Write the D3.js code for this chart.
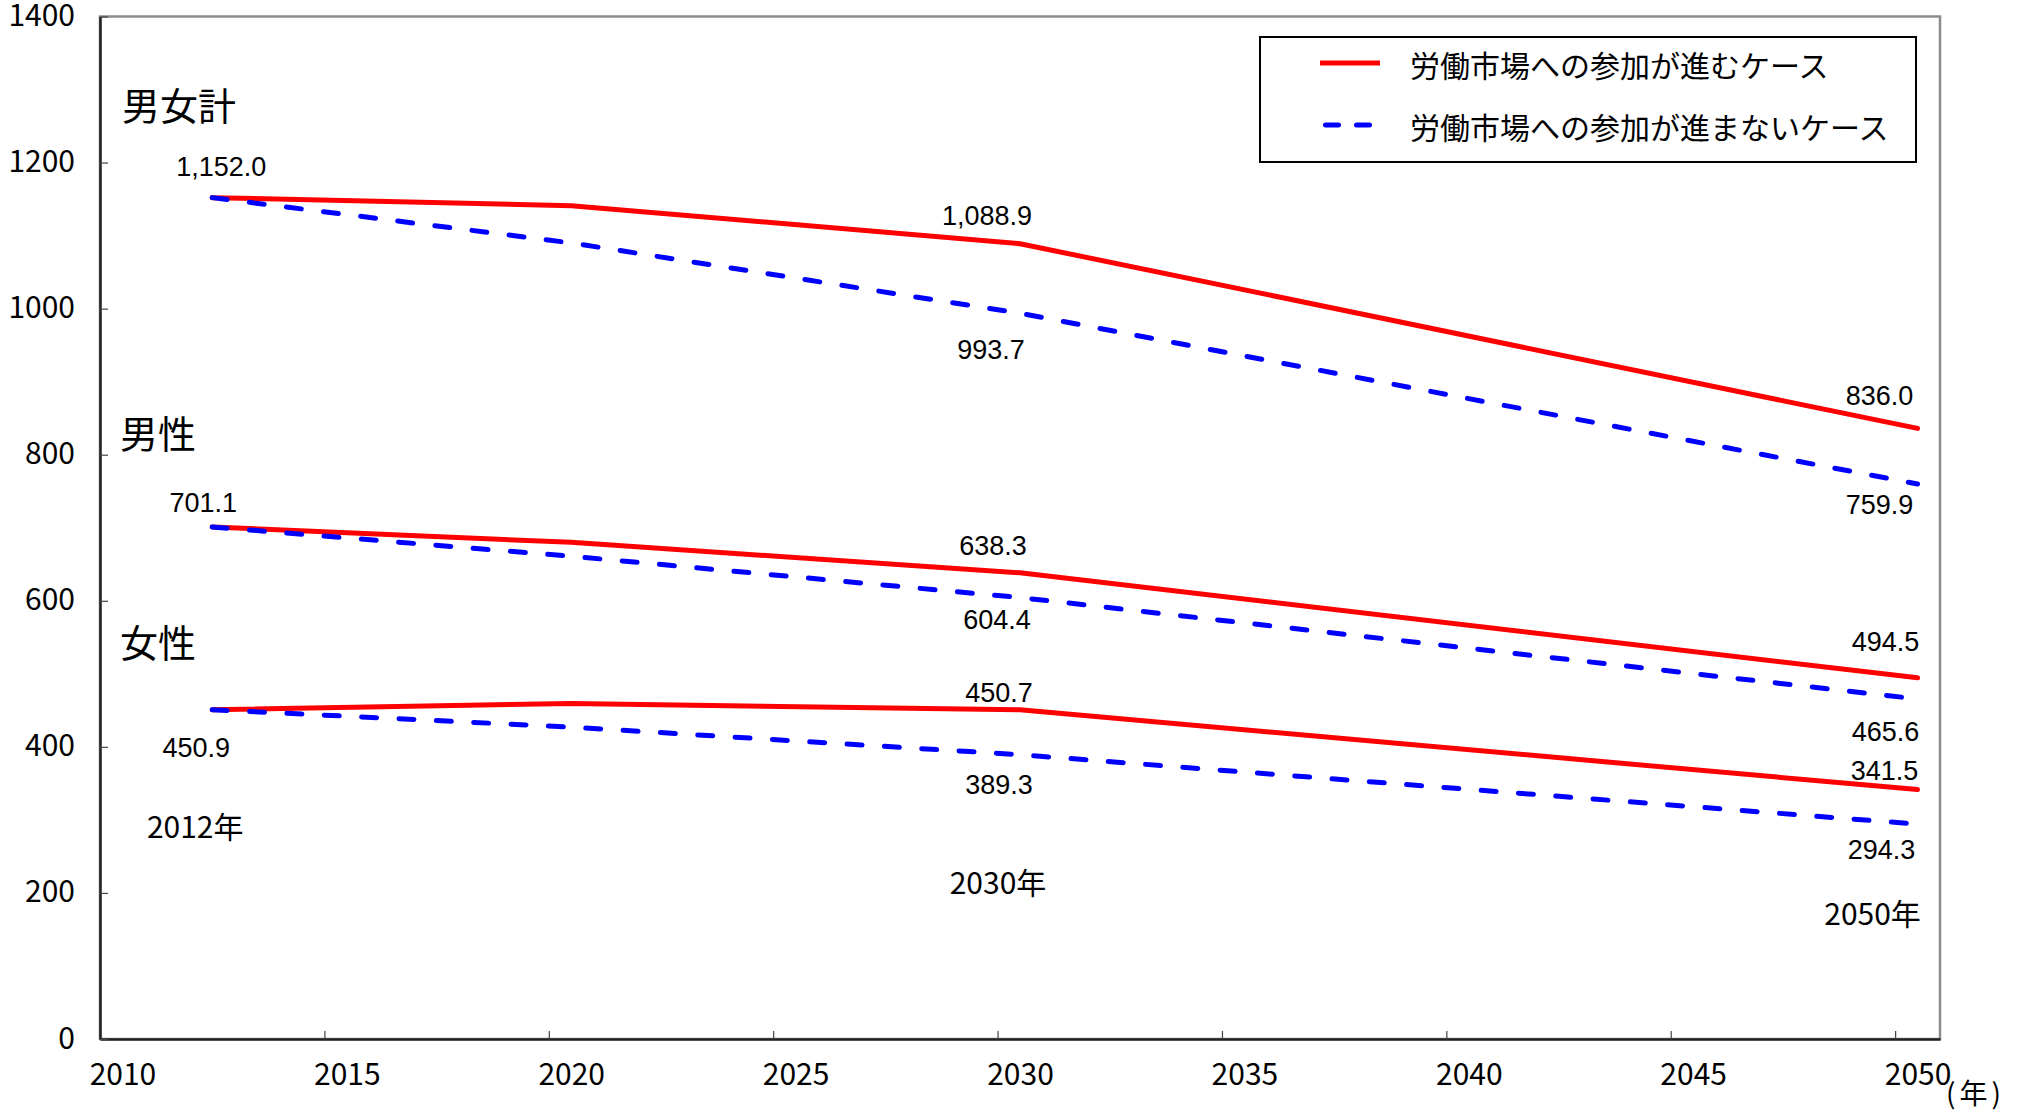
<!DOCTYPE html>
<html>
<head>
<meta charset="utf-8">
<script src="https://cdn.jsdelivr.net/npm/d3@7"></script>
<style>
  body { margin: 0; background: #fff; }
  svg { display: block; }
  .tick text { font-family: "Noto Sans CJK JP", sans-serif; font-size: 30px; fill: #000; }
  .val { font-family: "Liberation Sans", Arial, sans-serif; font-size: 27px; fill: #000; }
  .jp { font-family: "Noto Sans CJK JP", sans-serif; fill: #000; }
</style>
</head>
<body>
<div id="chart"></div>
<script>
// data (thousand persons), points plotted mid-year
var years = [2012, 2020, 2030, 2050];
var totalUp   = [1152.0, 1141, 1088.9, 836.0];
var totalDown = [1152.0, 1090,  993.7, 759.9];
var maleUp    = [701.1, 680, 638.3, 494.5];
var maleDown  = [701.1, 661, 604.4, 465.6];
var femaleUp  = [450.9, 459.5, 450.7, 341.5];
var femaleDown= [450.9, 427, 389.3, 294.3];

var xTicks = [2010, 2015, 2020, 2025, 2030, 2035, 2040, 2045, 2050];
var yTicks = [0, 200, 400, 600, 800, 1000, 1200, 1400];
var legendNames = ["労働市場への参加が進むケース", "労働市場への参加が進まないケース"];
var groupNames = ["男女計", "男性", "女性"];
var yearNames = ["2012年", "2030年", "2050年"];

var series = [
  {key: "totalUp", vals: totalUp, up: true},
  {key: "totalDown", vals: totalDown, up: false},
  {key: "maleUp", vals: maleUp, up: true},
  {key: "maleDown", vals: maleDown, up: false},
  {key: "femaleUp", vals: femaleUp, up: true},
  {key: "femaleDown", vals: femaleDown, up: false}
];

// where each value label sits, offset from its point
var labelPlace = [
  {key: "totalUp", i: 0, dx: 9, dy: -22},
  {key: "totalUp", i: 2, dx: -33, dy: -19},
  {key: "totalUp", i: 3, dx: -38, dy: -23},
  {key: "totalDown", i: 2, dx: -29, dy: 46},
  {key: "totalDown", i: 3, dx: -38, dy: 30},
  {key: "maleUp", i: 0, dx: -9, dy: -15},
  {key: "maleUp", i: 2, dx: -27, dy: -18},
  {key: "maleUp", i: 3, dx: -32, dy: -27},
  {key: "maleDown", i: 2, dx: -23, dy: 31},
  {key: "maleDown", i: 3, dx: -32, dy: 42},
  {key: "femaleUp", i: 0, dx: -16, dy: 47},
  {key: "femaleUp", i: 2, dx: -21, dy: -8},
  {key: "femaleUp", i: 3, dx: -33, dy: -10},
  {key: "femaleDown", i: 2, dx: -21, dy: 39},
  {key: "femaleDown", i: 3, dx: -36, dy: 35}
];

var W = 2022, H = 1115;
var pLeft = 100, pRight = 1940, pTop = 16.5, pBottom = 1039;

var svg = d3.select("#chart").append("svg")
  .attr("width", W).attr("height", H);

var x = d3.scaleLinear().domain([2010, 2051]).range([pLeft, pRight]);
var y = d3.scaleLinear().domain([0, 1400]).range([pBottom, pTop]);
var half = x(2010.5) - x(2010);

// frame
svg.append("rect")
  .attr("x", pLeft).attr("y", pTop)
  .attr("width", pRight - pLeft).attr("height", pBottom - pTop)
  .attr("fill", "none").attr("stroke", "#8c8c8c").attr("stroke-width", 2.5);

var xAxis = svg.append("g")
  .attr("transform", "translate(0," + pBottom + ")")
  .call(d3.axisBottom(x).tickValues(xTicks).tickFormat(d3.format("d"))
    .tickSizeInner(-8).tickSizeOuter(0).tickPadding(25));
xAxis.selectAll("text").attr("dx", half);

var yAxis = svg.append("g")
  .attr("transform", "translate(" + pLeft + ",0)")
  .call(d3.axisLeft(y).tickValues(yTicks).tickFormat(d3.format("d"))
    .tickSizeInner(-8).tickSizeOuter(0).tickPadding(25));
yAxis.selectAll("text").attr("dy", "0.3em");

svg.selectAll(".domain").attr("stroke", "#222").attr("stroke-width", 2.5);
svg.selectAll(".tick line").attr("stroke", "#444").attr("stroke-width", 1.2);

var line = d3.line()
  .x(function(d, i) { return x(years[i] + 0.5); })
  .y(function(d) { return y(d); });

svg.append("g").selectAll("path")
  .data(series)
  .enter()
  .append("path")
  .attr("d", function(s) { return line(s.vals); })
  .attr("fill", "none")
  .attr("stroke", function(s) { return s.up ? "#ff0000" : "#0000ff"; })
  .attr("stroke-width", 5)
  .attr("stroke-linecap", "round")
  .attr("stroke-linejoin", "round")
  .attr("stroke-dasharray", function(s) { return s.up ? null : "15,22.4"; });

var fmt = d3.format(",.1f");
var byKey = {};
series.forEach(function(s) { byKey[s.key] = s; });

svg.append("g").selectAll("text")
  .data(labelPlace)
  .enter()
  .append("text")
  .attr("class", "val")
  .attr("text-anchor", "middle")
  .attr("x", function(d) { return x(years[d.i] + 0.5) + d.dx; })
  .attr("y", function(d) { return y(byKey[d.key].vals[d.i]) + d.dy; })
  .text(function(d) { return fmt(byKey[d.key].vals[d.i]); });

// year captions
var yearPlace = [
  {i: 0, dx: -17, py: 838},
  {i: 2, dx: -22, py: 894},
  {i: 3, dx: -45, py: 925}
];
svg.append("g").selectAll("text")
  .data(yearPlace)
  .enter()
  .append("text")
  .attr("class", "jp")
  .attr("font-size", 30)
  .attr("text-anchor", "middle")
  .attr("x", function(d) { return x(years[d.i] + 0.5) + d.dx; })
  .attr("y", function(d) { return d.py; })
  .text(function(d, k) { return yearNames[k]; });

// group captions
var groupPlace = [[122, 120], [120, 448], [120, 657]];
svg.append("g").selectAll("text")
  .data(groupNames)
  .enter()
  .append("text")
  .attr("class", "jp")
  .attr("font-size", 38)
  .attr("x", function(d, i) { return groupPlace[i][0]; })
  .attr("y", function(d, i) { return groupPlace[i][1]; })
  .text(function(d) { return d; });

svg.append("text")
  .attr("class", "jp")
  .attr("font-size", 28)
  .attr("letter-spacing", 4)
  .attr("x", 1946).attr("y", 1104)
  .text("(年)");

// legend
var lg = svg.append("g");
lg.append("rect")
  .attr("x", 1260).attr("y", 37).attr("width", 656).attr("height", 125)
  .attr("fill", "#fff").attr("stroke", "#000").attr("stroke-width", 2);
var legendRows = [66, 128];
legendNames.forEach(function(name, i) {
  lg.append("line")
    .attr("x1", i ? 1325.5 : 1320).attr("x2", i ? 1370 : 1380)
    .attr("y1", legendRows[i] - 3).attr("y2", legendRows[i] - 3)
    .attr("stroke", i ? "#0000ff" : "#ff0000")
    .attr("stroke-width", 5)
    .attr("stroke-linecap", i ? "round" : "butt")
    .attr("stroke-dasharray", i ? "13,18" : null);
  lg.append("text")
    .attr("class", "jp")
    .attr("font-size", 30)
    .attr("x", 1410).attr("y", legendRows[i] + 11)
    .text(name);
});
</script>
</body>
</html>
